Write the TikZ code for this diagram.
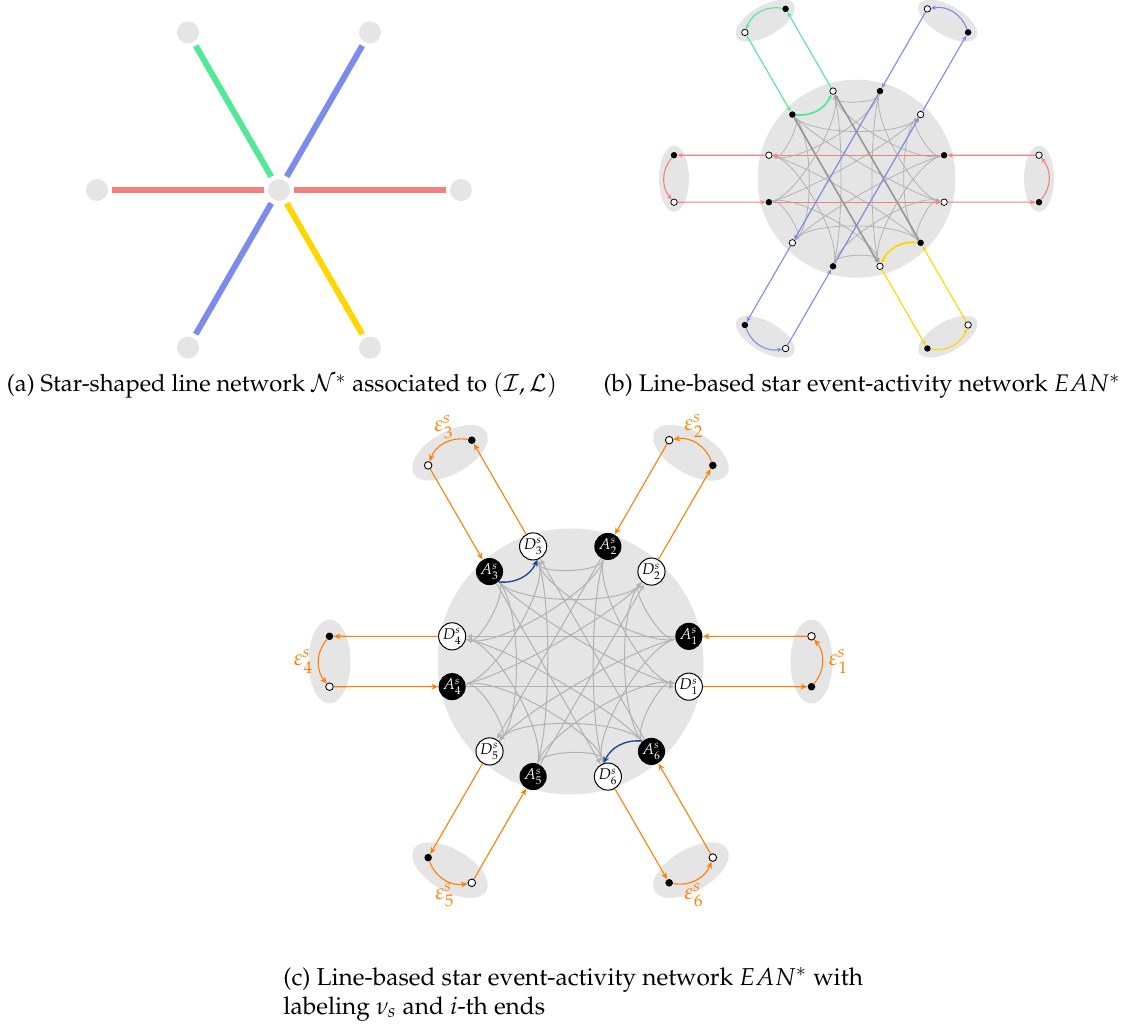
\documentclass[tikz,border=0pt]{standalone}
\usepackage[T1]{fontenc}
\usepackage{mathpazo}
\usetikzlibrary{arrows.meta,calc,shapes.geometric}

\definecolor{lineRed}{RGB}{246,128,128}
\definecolor{lineBlue}{RGB}{124,140,234}
\definecolor{lineGreen}{RGB}{82,232,150}
\definecolor{lineYellow}{RGB}{255,214,0}
\definecolor{turnBlue}{RGB}{24,68,150}
\definecolor{endOrange}{RGB}{255,128,0}

\tikzset{
	stop/.style   = { circle, fill=gray!20, minimum size=9.9pt, inner sep=0pt },
	leg/.style    = { line width=2.7pt, shorten <=1.8pt, shorten >=1.8pt },
	dotA/.style   = { circle, fill=black, minimum size=2.9pt, inner sep=0pt },
	dotD/.style   = { circle, draw=black, fill=white, line width=0.35pt, minimum size=2.9pt, inner sep=0pt },
	endb/.style   = { ellipse, fill=gray!20, minimum width=13.5pt, minimum height=29.7pt, inner sep=0pt },
	lineb/.style  = { line width=0.5pt, -{Stealth[length=2.2pt,width=2pt]} },
	transb/.style = { line width=0.35pt, black!30, -{Latex[length=2pt,width=1.6pt]} },
	evA/.style    = { circle, fill=black, text=white, minimum size=12.2pt, inner sep=0pt, font=\fontsize{7}{7}\selectfont },
	evD/.style    = { circle, draw=black, fill=white, line width=0.45pt, minimum size=12.2pt, inner sep=0pt, font=\fontsize{7}{7}\selectfont },
	endA/.style   = { circle, fill=black, minimum size=3.4pt, inner sep=0pt },
	endD/.style   = { circle, draw=black, fill=white, line width=0.4pt, minimum size=3.4pt, inner sep=0pt },
	endc/.style   = { ellipse, fill=gray!20, minimum width=18.9pt, minimum height=37.8pt, inner sep=0pt },
	act/.style    = { line width=0.5pt, endOrange, -{Stealth[length=3pt,width=2.6pt]} },
	trans/.style  = { line width=0.45pt, black!30, -{Latex[length=2.6pt,width=2.2pt]} },
	turn/.style   = { line width=0.6pt, turnBlue, -{Stealth[length=3pt,width=2.6pt]} },
	elabel/.style = { endOrange, inner sep=0pt },
	capt/.style   = { inner sep=0pt },
}

\begin{document}
\begin{tikzpicture}[x=0.45pt, y=0.45pt]
\useasboundingbox (0,0) rectangle (1124,-1026);

% (a) star-shaped line network
\coordinate (ca) at (279,-190);
\node[stop] (s0) at (ca) {};
\foreach \i in {1,...,6}
	\node[stop] (s\i) at ($(ca)+({60*(\i-1)}:182)$) {};
\draw[leg, lineRed]    (s4) -- (s0);
\draw[leg, lineRed]    (s0) -- (s1);
\draw[leg, lineBlue]   (s2) -- (s0);
\draw[leg, lineBlue]   (s0) -- (s5);
\draw[leg, lineGreen]  (s3) -- (s0);
\draw[leg, lineYellow] (s0) -- (s6);
\node[capt, anchor=base, font=\fontsize{10.7}{13}\selectfont] (capA) at (282,-392)
	{(a) Star-shaped line network $\mathcal{N}^*$ associated to $(\mathcal{I},\mathcal{L})$};

% (b) line-based star EAN
\coordinate (cb) at (856.5,-178.7);
\fill[gray!20] (cb) circle[radius=99];
\foreach \i/\col in {1/lineRed,2/lineBlue,3/lineGreen,4/lineRed,5/lineBlue,6/lineYellow}{
	\pgfmathtruncatemacro\t{60*(\i-1)}
	\node[endb, rotate=\t] (bE\i) at ($(cb)+(\t:182.5)$) {};
	\node[dotA] (bA\i) at ($(cb)+(\t+15:90.7)$) {};
	\node[dotD] (bD\i) at ($(cb)+(\t-15:90.7)$) {};
	\node[dotA] (bEA\i) at ($(bE\i)+(\t-90:23.5)$) {};
	\node[dotD] (bED\i) at ($(bE\i)+(\t+90:23.5)$) {};
	\draw[lineb, color=\col] (bD\i) -- (bEA\i);
	\draw[lineb, color=\col] (bED\i) -- (bA\i);
	\draw[lineb, color=\col] (bEA\i) to[bend right=40] (bED\i);
}
\foreach \i in {1,...,6}
	\foreach \j in {1,...,6}{
		\pgfmathtruncatemacro\k{mod(\j-\i+6,6)}
		\pgfmathtruncatemacro\sa{mod(60*(\i-1)+195,360)}
		\pgfmathtruncatemacro\sd{mod(60*(\j-1)+165,360)}
		\ifnum\k=0\relax\else
			\ifnum\k=3
				\draw[transb] (bA\i) -- (bD\j);
			\else
				\draw[transb] (bA\i.\sa) to[out=\sa, in=\sd, looseness=0.55] (bD\j.\sd);
			\fi
		\fi
	}
\draw[transb, line width=0.75pt, black!40] (bA3) -- (bD6);
\draw[transb, line width=0.75pt, black!40] (bA6) -- (bD3);
\draw[lineb, lineRed]  (bA1) -- (bD4);
\draw[lineb, lineRed]  (bA4) -- (bD1);
\draw[lineb, lineBlue] (bA2) -- (bD5);
\draw[lineb, lineBlue] (bA5) -- (bD2);
\draw[lineb, lineGreen, line width=0.8pt]  (bA3) to[bend right=35] (bD3);
\draw[lineb, lineYellow, line width=0.8pt] (bA6) to[bend right=35] (bD6);
\node[capt, anchor=base, font=\fontsize{10.8}{13}\selectfont] (capB) at (862,-392)
	{(b) Line-based star event-activity network $EAN^*$};

% (c) EAN with labels
\coordinate (cc) at (570.5,-661.5);
\fill[gray!20] (cc) circle[radius=133];
\foreach \i in {1,...,6}{
	\pgfmathtruncatemacro\t{60*(\i-1)}
	\node[endc, rotate=\t] (E\i) at ($(cc)+(\t:241)$) {};
	\node[evA] (A\i) at ($(cc)+(\t+12:121)$) {$A^s_{\i}$};
	\node[evD] (D\i) at ($(cc)+(\t-12:121)$) {$D^s_{\i}$};
	\node[endA] (EA\i) at ($(E\i)+(\t-90:25.2)$) {};
	\node[endD] (ED\i) at ($(E\i)+(\t+90:25.2)$) {};
	\draw[act] (D\i) -- (EA\i);
	\draw[act] (ED\i) -- (A\i);
	\draw[act] (EA\i) to[bend right=40] (ED\i);
}
\foreach \i in {1,...,6}
	\foreach \j in {1,...,6}{
		\pgfmathtruncatemacro\k{mod(\j-\i+6,6)}
		\pgfmathtruncatemacro\sa{mod(60*(\i-1)+192,360)}
		\pgfmathtruncatemacro\sd{mod(60*(\j-1)+168,360)}
		\ifnum\k=0\relax\else
			\ifnum\k=3
				\draw[trans] (A\i) -- (D\j);
			\else
				\draw[trans] (A\i.\sa) to[out=\sa, in=\sd, looseness=0.55] (D\j.\sd);
			\fi
		\fi
	}
\draw[turn] (A3.312) to[bend right=35] (D3.288);
\draw[turn] (A6.132) to[bend right=35] (D6.108);
\node[elabel] (lab1) at ($(E1)+(27,0)$)   {$\varepsilon^s_1$};
\node[elabel] (lab2) at ($(E2)+(3,27)$)   {$\varepsilon^s_2$};
\node[elabel] (lab3) at ($(E3)+(-6,26)$)  {$\varepsilon^s_3$};
\node[elabel] (lab4) at ($(E4)+(-26,0)$)  {$\varepsilon^s_4$};
\node[elabel] (lab5) at ($(E5)+(-5,-25)$) {$\varepsilon^s_5$};
\node[elabel] (lab6) at ($(E6)+(3,-25)$)  {$\varepsilon^s_6$};
\node[capt, anchor=north west, align=left, font=\fontsize{11}{13}\selectfont] (capC) at (283,-967)
	{(c) Line-based star event-activity network $EAN^*$ with\\labeling $\nu_s$ and $i$-th ends};
\end{tikzpicture}
\end{document}
